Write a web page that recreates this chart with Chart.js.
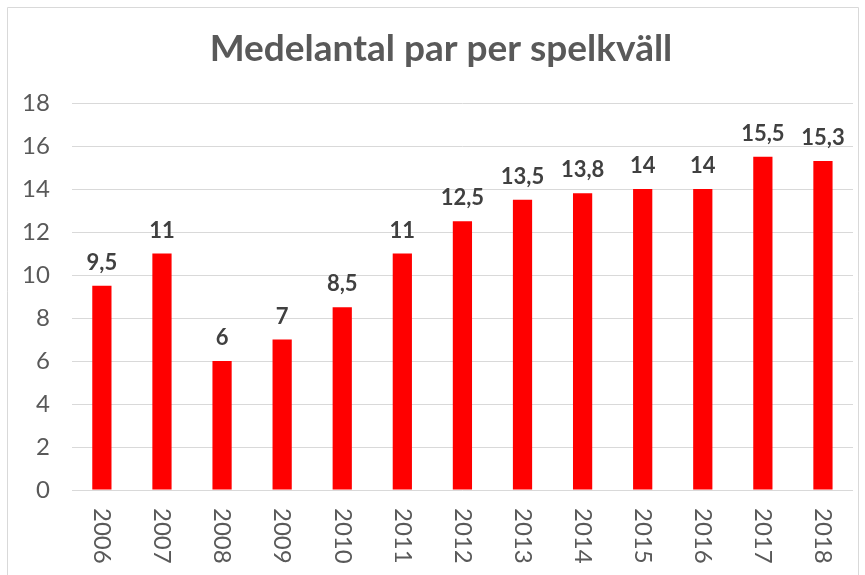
<!DOCTYPE html>
<html>
<head>
<meta charset="utf-8">
<script src="https://cdn.jsdelivr.net/npm/chart.js@4"></script>
<style>
  html, body { margin: 0; padding: 0; background: #fff; }
  #wrap { position: relative; width: 865px; height: 575px; }
</style>
</head>
<body>
<div id="wrap"><canvas id="chart"></canvas></div>
<script>
// data
const years = ['2006', '2007', '2008', '2009', '2010', '2011', '2012', '2013', '2014', '2015', '2016', '2017', '2018'];
const pairs = [9.5, 11, 6, 7, 8.5, 11, 12.5, 13.5, 13.8, 14, 14, 15.5, 15.3];
const chartTitle = 'Medelantal par per spelkväll';

const FONT = 'Lato, "Open Sans", sans-serif';
const grey = '#595959';

// frame, title, value labels and the clockwise year labels
const decor = {
  id: 'decor',
  beforeDraw(chart) {
    const ctx = chart.ctx;
    ctx.save();
    ctx.strokeStyle = '#d9d9d9';
    ctx.lineWidth = 1;
    ctx.beginPath();
    ctx.moveTo(7.5, 580);
    ctx.lineTo(7.5, 7.5);
    ctx.lineTo(858.5, 7.5);
    ctx.lineTo(858.5, 580);
    ctx.stroke();
    ctx.restore();
  },
  afterDatasetsDraw(chart) {
    const ctx = chart.ctx;
    const meta = chart.getDatasetMeta(0);
    ctx.save();
    ctx.fillStyle = grey;
    ctx.font = 'bold 37px ' + FONT;
    ctx.textAlign = 'center';
    ctx.textBaseline = 'alphabetic';
    ctx.fillText(chartTitle, 441, 61);

    ctx.fillStyle = '#404040';
    ctx.font = 'bold 22px ' + FONT;
    meta.data.forEach((bar, i) => {
      ctx.fillText(String(pairs[i]).replace('.', ','), bar.x, bar.y - 16);
    });

    const xs = chart.scales.x;
    ctx.fillStyle = grey;
    ctx.font = '24px ' + FONT;
    ctx.textAlign = 'left';
    ctx.textBaseline = 'middle';
    years.forEach((y, i) => {
      const px = xs.getPixelForTick(i);
      ctx.save();
      ctx.translate(px, chart.chartArea.bottom + 18);
      ctx.rotate(Math.PI / 2);
      ctx.fillText(y, 0, 0);
      ctx.restore();
    });
    ctx.restore();
  }
};

new Chart(document.getElementById('chart'), {
  type: 'bar',
  data: {
    labels: years,
    datasets: [{
      data: pairs,
      backgroundColor: '#ff0000',
      categoryPercentage: 1,
      barPercentage: 0.32
    }]
  },
  options: {
    responsive: true,
    maintainAspectRatio: false,
    animation: false,
    layout: { padding: { left: 0, right: 12, top: 103, bottom: 77 } },
    plugins: {
      legend: { display: false },
      title: { display: false },
      tooltip: { enabled: false }
    },
    scales: {
      x: {
        grid: { display: false },
        border: { display: false },
        ticks: { display: false }
      },
      y: {
        min: 0,
        max: 18,
        ticks: {
          stepSize: 2,
          color: grey,
          font: { family: FONT, size: 24 },
          padding: 22
        },
        grid: { color: '#d9d9d9', drawTicks: false },
        border: { display: false }
      }
    }
  },
  plugins: [decor]
});
</script>
</body>
</html>
